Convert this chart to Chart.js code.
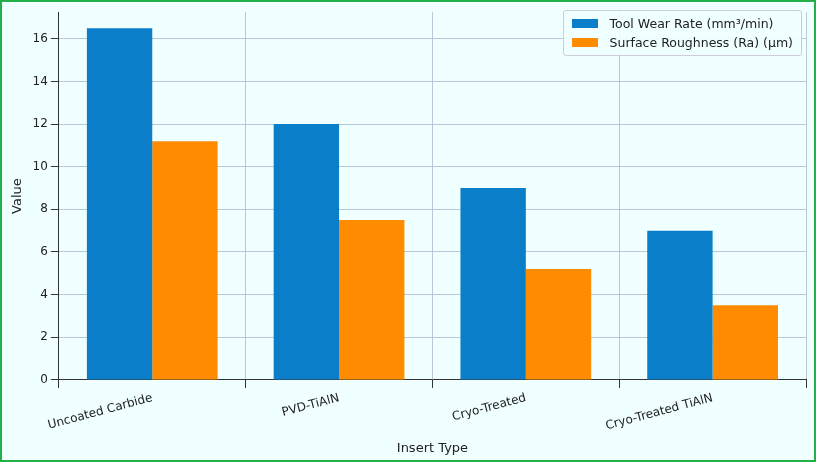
<!DOCTYPE html>
<html><head><meta charset="utf-8">
<script src="https://cdn.jsdelivr.net/npm/chart.js@4/dist/chart.umd.min.js"></script>
<style>
html,body{margin:0;padding:0;background:#fff}
#wrap{position:relative;width:812px;height:458px;border:2px solid #22b04a;background:#f0ffff}
#legend{position:absolute;right:12px;top:8px;background:rgba(240,255,255,0.9);border:1px solid #ccd;border-radius:3px;padding:3px 8px;font:12.5px "DejaVu Sans";color:#222}
#legend div{display:flex;align-items:center;height:19px}
#legend span.sw{display:inline-block;width:26px;height:9px;margin-right:12px}
</style></head><body>
<div id="wrap"><canvas id="c" width="812" height="458"></canvas><div id="legend"></div></div>
<script>
const categories=["Uncoated Carbide","PVD-TiAlN","Cryo-Treated","Cryo-Treated TiAlN"];
const toolWear=[16.5,12,9,7];
const roughness=[11.2,7.5,5.2,3.5];
const seriesLabels=["Tool Wear Rate (mm³/min)","Surface Roughness (Ra) (µm)"];
const colors=["#0a7ec8","#ff8c00"];
const yTicks=[0,2,4,6,8,10,12,14,16];
const leg=document.getElementById('legend');
seriesLabels.forEach((l,i)=>{const d=document.createElement('div');d.innerHTML='<span class="sw" style="background:'+colors[i]+'"></span>'+l;leg.appendChild(d);});
new Chart(document.getElementById('c'),{type:'bar',
data:{labels:categories,datasets:[
{label:seriesLabels[0],data:toolWear,backgroundColor:colors[0],barPercentage:1,categoryPercentage:0.7},
{label:seriesLabels[1],data:roughness,backgroundColor:colors[1],barPercentage:1,categoryPercentage:0.7}]},
options:{responsive:false,animation:false,
layout:{padding:{top:4,right:8,left:4}},
plugins:{legend:{display:false},tooltip:{enabled:false}},
scales:{
x:{grid:{color:'#b8c8d8',borderDash:[3,3],drawTicks:true,tickColor:'#333'},border:{color:'#333'},
ticks:{color:'#222',font:{family:'DejaVu Sans',size:12},maxRotation:15,minRotation:15},
title:{display:true,text:'Insert Type',color:'#222',font:{family:'DejaVu Sans',size:13}}},
y:{min:0,max:17.25,afterBuildTicks:a=>{a.ticks=yTicks.map(v=>({value:v}));},
grid:{color:'#b8c8d8',borderDash:[3,3],tickColor:'#333'},border:{color:'#333'},
ticks:{color:'#222',font:{family:'DejaVu Sans',size:12}},
title:{display:true,text:'Value',color:'#222',font:{family:'DejaVu Sans',size:13}}}}}});
</script></body></html>
